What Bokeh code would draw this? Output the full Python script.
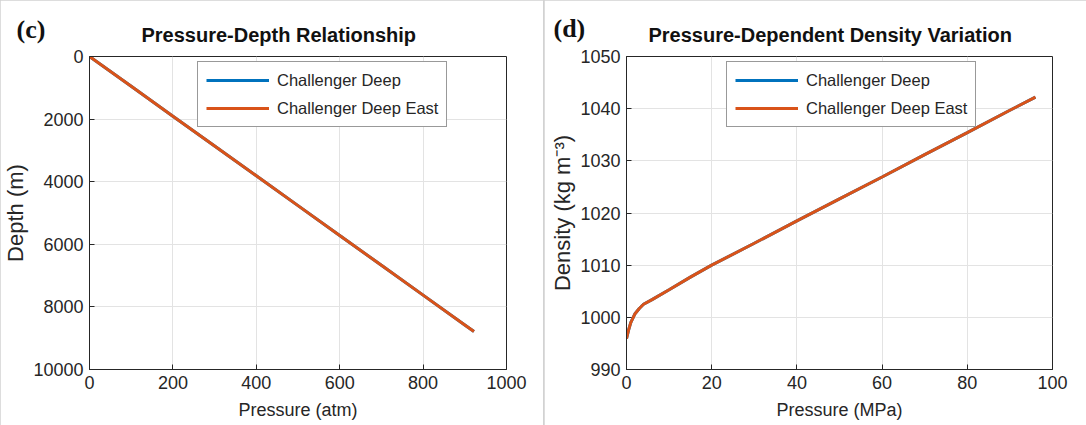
from bokeh.plotting import figure
from bokeh.models import Range1d, FixedTicker, Label, Legend, LegendItem
from bokeh.layouts import row
from bokeh.embed import file_html
from bokeh.resources import INLINE

# ---- data ----
pressure_atm = [0, 100, 200, 300, 400, 500, 600, 700, 800, 900, 922]
depth_cd = [0, 953, 1906, 2859, 3812, 4765, 5718, 6671, 7624, 8577, 8787]
depth_cde = [0, 953, 1906, 2859, 3812, 4765, 5718, 6671, 7624, 8577, 8787]

pressure_mpa = [0, 0.5, 1, 2, 3, 4, 6, 10, 15, 20, 30, 40, 50, 60, 70, 80, 90, 96]
density_cd = [995.9, 997.6, 999.0, 1000.7, 1001.7, 1002.5, 1003.4, 1005.3, 1007.7, 1010.0,
              1014.2, 1018.5, 1022.7, 1026.9, 1031.2, 1035.4, 1039.7, 1042.2]
density_cde = [995.9, 997.6, 999.0, 1000.7, 1001.7, 1002.5, 1003.4, 1005.3, 1007.7, 1010.0,
               1014.2, 1018.5, 1022.7, 1026.9, 1031.2, 1035.4, 1039.7, 1042.2]

series_names = ["Challenger Deep", "Challenger Deep East"]
series_colors = ["#0072BD", "#D95319"]

x_ticks_c = [0, 200, 400, 600, 800, 1000]
y_ticks_c = [0, 2000, 4000, 6000, 8000, 10000]
x_ticks_d = [0, 20, 40, 60, 80, 100]
y_ticks_d = [990, 1000, 1010, 1020, 1030, 1040, 1050]

FONT = "Liberation Sans"
AX = "#262626"
TICK_FS = "18px"


def style_axis(ax, ticks, label, label_fs, standoff):
    ax.ticker = FixedTicker(ticks=ticks)
    ax.axis_line_color = AX
    ax.major_tick_line_color = AX
    ax.major_tick_in = 5
    ax.major_tick_out = 0
    ax.minor_tick_line_color = None
    ax.major_label_text_font = FONT
    ax.major_label_text_color = AX
    ax.major_label_text_font_size = TICK_FS
    ax.major_label_standoff = 6
    ax.axis_label = label
    ax.axis_label_text_font = FONT
    ax.axis_label_text_font_size = label_fs
    ax.axis_label_text_font_style = "normal"
    ax.axis_label_text_color = AX
    ax.axis_label_standoff = standoff


def make_fig(width, x_range, y_range, xt, yt, xlabel, ylabel, border_left, border_right):
    p = figure(width=width, height=425, x_range=x_range, y_range=y_range,
               output_backend="svg", toolbar_location=None,
               min_border_left=border_left, min_border_right=border_right,
               min_border_top=56, min_border_bottom=56,
               background_fill_color="white", border_fill_color="white")
    style_axis(p.xaxis[0], xt, xlabel, "18px", 8)
    style_axis(p.yaxis[0], yt, ylabel, "22px", 2)
    p.xgrid.ticker = FixedTicker(ticks=xt)
    p.ygrid.ticker = FixedTicker(ticks=yt)
    p.grid.grid_line_color = "#e3e3e3"
    p.grid.grid_line_width = 1
    p.outline_line_color = AX
    return p


def add_headers(p, panel_text, title_text, title_x, tag_y):
    # panel tag, nearest the frame
    p.add_layout(Label(x=-73, y=tag_y, x_units="screen", y_units="screen", text=panel_text,
                       text_font="Liberation Serif", text_font_size="26px",
                       text_font_style="bold", text_color="#111111"), "above")
    # chart title
    p.add_layout(Label(x=title_x, y=-18, x_units="screen", y_units="screen", text=title_text,
                       text_font=FONT, text_font_size="20px",
                       text_font_style="bold", text_color="#111111"), "above")


# ---- panel (c) ----
pc = make_fig(543, Range1d(0, 1000), Range1d(10000, 0), x_ticks_c, y_ticks_c,
              "Pressure (atm)", "Depth (m)", 83, 37)
r1 = pc.line(pressure_atm, depth_cd, line_color=series_colors[0], line_width=3)
r2 = pc.line(pressure_atm, depth_cde, line_color=series_colors[1], line_width=3)
add_headers(pc, "(c)", "Pressure-Depth Relationship", 52, 13)

# ---- panel (d) ----
pd_ = make_fig(542, Range1d(0, 100), Range1d(990, 1050), x_ticks_d, y_ticks_d,
               "Pressure (MPa)", "Density (kg m\u207b\u00b3)", 82, 34)
r3 = pd_.line(pressure_mpa, density_cd, line_color=series_colors[0], line_width=3)
r4 = pd_.line(pressure_mpa, density_cde, line_color=series_colors[1], line_width=3)
add_headers(pd_, "(d)", "Pressure-Dependent Density Variation", 22, 14)


def add_legend(p, rends, loc):
    leg = Legend(items=[LegendItem(label=series_names[i], renderers=[rends[i]]) for i in range(2)],
                 location=loc)
    leg.label_text_font = FONT
    leg.label_text_font_size = "16.5px"
    leg.label_text_color = AX
    leg.glyph_width = 63
    leg.glyph_height = 20
    leg.label_height = 20
    leg.label_standoff = 8
    leg.padding = 8
    leg.spacing = 8
    leg.margin = 0
    leg.border_line_color = "#333333"
    leg.border_line_width = 1
    leg.background_fill_color = "white"
    leg.background_fill_alpha = 1
    p.add_layout(leg, "center")


add_legend(pc, [r1, r2], (108, 242))
add_legend(pd_, [r3, r4], (100, 242))

layout = row(pc, pd_, spacing=1, styles={"background-color": "#d2d2d2"})
open("out.html", "w").write(file_html(layout, INLINE))
